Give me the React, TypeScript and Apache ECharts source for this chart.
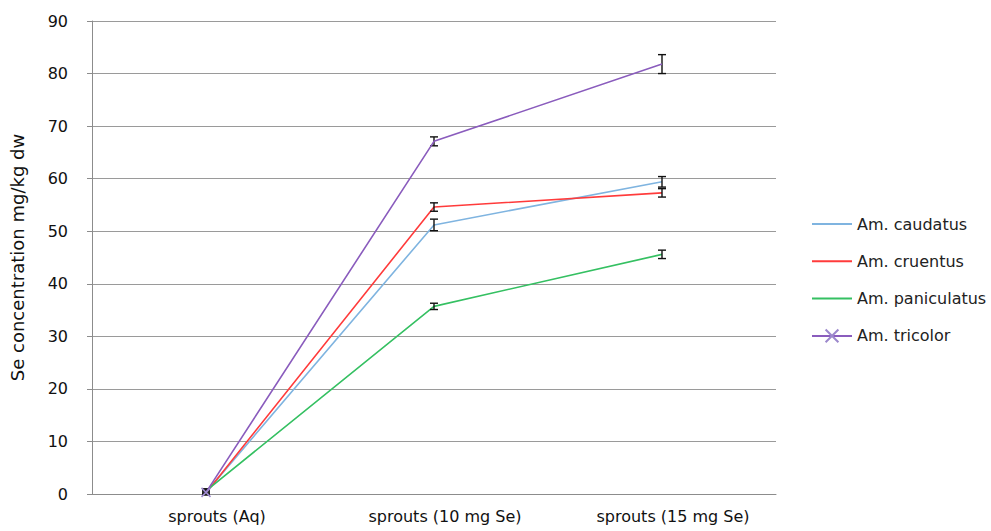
import React, { useEffect, useRef } from "react";
import * as echarts from "echarts";

const categories = ["sprouts (Aq)", "sprouts (10 mg Se)", "sprouts (15 mg Se)"];
const seriesNames = ["Am. caudatus", "Am. cruentus", "Am. paniculatus", "Am. tricolor"];
const caudatus = [0.3, 51.2, 59.4];
const cruentus = [0.2, 54.6, 57.3];
const paniculatus = [0.6, 35.7, 45.6];
const tricolor = [0.3, 67.1, 81.8];
const caudatusErr = [0.3, 1.1, 1.0];
const cruentusErr = [0.2, 0.8, 0.8];
const paniculatusErr = [0.4, 0.6, 0.8];
const tricolorErr = [0.5, 0.85, 1.8];
const yTicks = [0, 10, 20, 30, 40, 50, 60, 70, 80, 90];

const colors = ["#7FB4E0", "#FF3B3B", "#35C062", "#8A5CBD"];
const FONT = "DejaVu Sans";
const crossPath = "path://M0,0L10,10M10,0L0,10";

export default function App() {
  const ref = useRef<HTMLDivElement>(null);
  useEffect(() => {
    if (!ref.current) return;
    const chart = echarts.init(ref.current, undefined, { renderer: "svg" });
    const values = [caudatus, cruentus, paniculatus, tricolor];
    const errs = [caudatusErr, cruentusErr, paniculatusErr, tricolorErr];
    const errData: number[][] = [];
    values.forEach((vals, s) => {
      vals.forEach((v, i) => {
        errData.push([i, v - errs[s][i], v + errs[s][i]]);
      });
    });
    const lineSeries = values.map((vals, s) => {
      const isTri = s === 3;
      return {
        name: seriesNames[s],
        type: "line",
        data: isTri
          ? vals.map((v, i) => (i === 0 ? v : { value: v, symbol: "none" }))
          : vals,
        symbol: isTri ? crossPath : "none",
        symbolSize: 9,
        showSymbol: true,
        lineStyle: { color: colors[s], width: 1.6 },
        itemStyle: isTri
          ? { color: "rgba(0,0,0,0)", borderColor: "#9C88CC", borderWidth: 1.6 }
          : { color: colors[s] },
        z: isTri ? 6 : 2,
      };
    });
    chart.setOption({
      animation: false,
      backgroundColor: "#ffffff",
      grid: { left: 87, top: 21, right: 215, bottom: 37, containLabel: false },
      legend: {
        orient: "vertical",
        left: 806,
        top: 211,
        itemWidth: 40,
        itemHeight: 16,
        itemGap: 21.3,
        textStyle: { fontFamily: FONT, fontSize: 16, lineHeight: 16, color: "#222" },
        data: seriesNames.map((n, s) => ({
          name: n,
          icon: s === 3 ? undefined : "path://M0,7L40,7L40,9L0,9Z",
        })),
      },
      xAxis: {
        type: "category",
        data: categories,
        boundaryGap: true,
        axisLine: { lineStyle: { color: "#8C8C8C", width: 1 } },
        axisTick: { show: false },
        axisLabel: {
          fontFamily: FONT,
          fontSize: 16,
          color: "#111",
          margin: 14,
          padding: [0, 0, 0, 22],
        },
      },
      yAxis: {
        type: "value",
        min: 0,
        max: 90,
        interval: 10,
        name: "Se concentration mg/kg dw",
        nameLocation: "middle",
        nameGap: 66,
        nameTextStyle: { fontFamily: FONT, fontSize: 18, color: "#111" },
        axisLine: { show: true, lineStyle: { color: "#8C8C8C", width: 1 } },
        axisTick: { show: true, length: 5, lineStyle: { color: "#8C8C8C" } },
        axisLabel: {
          fontFamily: FONT,
          fontSize: 16,
          color: "#111",
          margin: 24,
          formatter: (v: number) => (yTicks.includes(v) ? String(v) : ""),
        },
        splitLine: { lineStyle: { color: "#9A9A9A", width: 1 } },
      },
      series: [
        ...lineSeries,
        {
          type: "custom",
          name: "errors",
          data: errData,
          encode: { x: 0, y: [1, 2] },
          z: 5,
          silent: true,
          renderItem: (params: any, api: any) => {
            const x = api.value(0);
            const lo = api.coord([x, api.value(1)]);
            const hi = api.coord([x, api.value(2)]);
            const hw = 4;
            const style = { stroke: "#111", lineWidth: 1.4 };
            return {
              type: "group",
              children: [
                { type: "line", shape: { x1: lo[0], y1: lo[1], x2: hi[0], y2: hi[1] }, style },
                { type: "line", shape: { x1: lo[0] - hw, y1: lo[1], x2: lo[0] + hw, y2: lo[1] }, style },
                { type: "line", shape: { x1: hi[0] - hw, y1: hi[1], x2: hi[0] + hw, y2: hi[1] }, style },
              ],
            };
          },
        },
      ],
    });
    return () => chart.dispose();
  }, []);
  return <div ref={ref} style={{ width: 991, height: 531, position: "absolute", left: 0, top: 0 }} />;
}
